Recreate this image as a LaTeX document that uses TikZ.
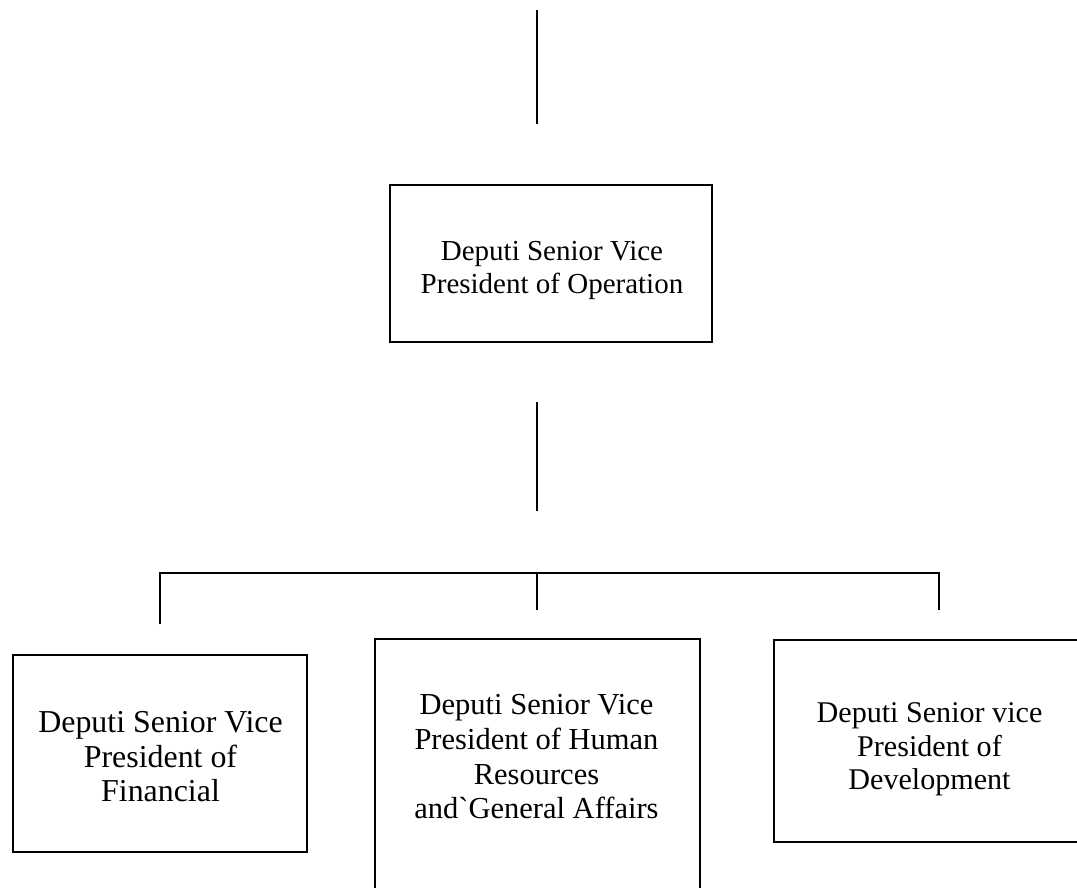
\documentclass[tikz,border=0pt]{standalone}
\usepackage{fontspec}
\setmainfont{Liberation Serif}[Ligatures=TeXOff]
\begin{document}
\begin{tikzpicture}[x=1pt,y=-1pt,
  box/.style={draw,line width=1.8pt,inner sep=0pt},
  label text/.style={inner sep=0pt,align=center},
  link/.style={line width=1.8pt,line cap=butt}]
\useasboundingbox (0,0) rectangle (1077,888);

% boxes
\node[box,minimum width=322pt,minimum height=157pt] (op)  at (551,263.5) {};
\node[box,minimum width=294pt,minimum height=197pt] (fin) at (160,753.5) {};
\node[box,minimum width=325pt,minimum height=266pt] (hr)  at (537.5,772) {};
\node[box,minimum width=326pt,minimum height=202pt] (dev) at (937,741) {};

% box texts
\node[label text,font=\fontsize{29}{33}\selectfont] (opt) at (552,270.7)
  {Deputi Senior Vice\\President of Operation};
\node[label text,font=\fontsize{31.9}{34.5}\selectfont] (fint) at (160.5,756.9)
  {Deputi Senior Vice\\President of\\Financial};
\node[label text,font=\fontsize{30.5}{34.7}\selectfont] (hrt) at (536.5,756.7)
  {Deputi Senior Vice\\President of Human\\Resources\\and`General Affairs};
\node[label text,font=\fontsize{30.1}{33.5}\selectfont] (devt) at (929.5,749.6)
  {Deputi Senior vice\\President of\\Development};

% connector ends
\coordinate (t1) at (537,10);
\coordinate (t2) at (537,124);
\coordinate (m1) at (537,402);
\coordinate (m2) at (537,511);
\coordinate (bl) at (160,572.7);
\coordinate (bm) at (537,572.7);
\coordinate (br) at (939,572.7);
\coordinate (fl) at (160,624);
\coordinate (hl) at (537,610);
\coordinate (dl) at (939,610);

% connectors
\draw[link] (t1) -- (t2);
\draw[link] (m1) -- (m2);
\draw[link] (fl) -- (bl) -- (br) -- (dl);
\draw[link] (bm) -- (hl);
\end{tikzpicture}
\end{document}
